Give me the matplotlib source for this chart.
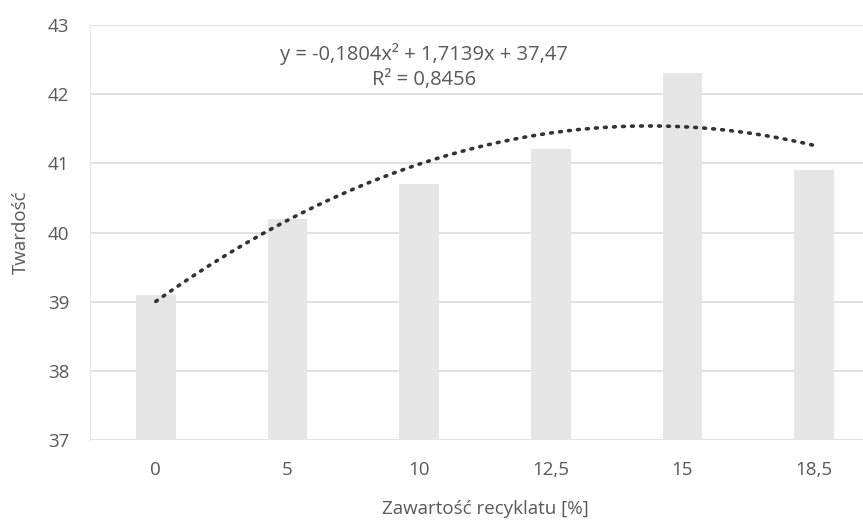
import matplotlib
matplotlib.use("Agg")
import matplotlib.pyplot as plt
import numpy as np

categories = ["0", "5", "10", "12,5", "15", "18,5"]
values = [39.1, 40.2, 40.7, 41.2, 42.3, 40.9]
trend_coef = [-0.1804, 1.7139, 37.47]
eq_text = "y = -0,1804x² + 1,7139x + 37,47"
r2_text = "R² = 0,8456"
yticks = [37, 38, 39, 40, 41, 42, 43]

plt.rcParams['font.family'] = ['Open Sans', 'DejaVu Sans']

fig = plt.figure(figsize=(8.63, 5.2), dpi=100)
W, H = 863, 520
left, right, top, bottom = 90, 880, 25, 440
ax = fig.add_axes([left / W, 1 - bottom / H, (right - left) / W, (bottom - top) / H])

x = np.arange(len(categories))
ax.bar(x, np.array(values) - 37, bottom=37, width=0.3, color="#e6e6e6", zorder=2)

xs = np.linspace(0, len(categories) - 1, 300)
ys = np.polyval(trend_coef, xs + 1)
ax.plot(xs, ys, linestyle=(0, (0.5, 2.0)), color="#333333", linewidth=2.6, zorder=3,
        dash_capstyle='round')

ax.set_xlim(-0.5, len(categories) - 0.5)
ax.set_ylim(37, 43)
ax.set_yticks(yticks)
ax.set_xticks(x)
ax.set_xticklabels(categories)
ax.grid(axis='y', color="#dcdcdc", linewidth=1.2, zorder=0)
ax.set_axisbelow(True)
for s in ["top", "right", "bottom"]:
    ax.spines[s].set_visible(False)
ax.spines["left"].set_color("#e8e8e8")
ax.tick_params(length=0, labelsize=13.5, labelcolor="#595959")
ax.tick_params(axis='y', pad=15)
ax.tick_params(axis='x', pad=15)

ax.set_ylabel("Twardość", fontsize=13.5, color="#595959", labelpad=13)
ax.set_xlabel("Zawartość recyklatu [%]", fontsize=13.5, color="#595959", labelpad=15)

ax.text(2.04, 42.58, eq_text, ha='center', va='center', fontsize=14.5, color="#595959")
ax.text(2.04, 42.2, r2_text, ha='center', va='center', fontsize=14.5, color="#595959")

fig.savefig("out.png", dpi=100)
